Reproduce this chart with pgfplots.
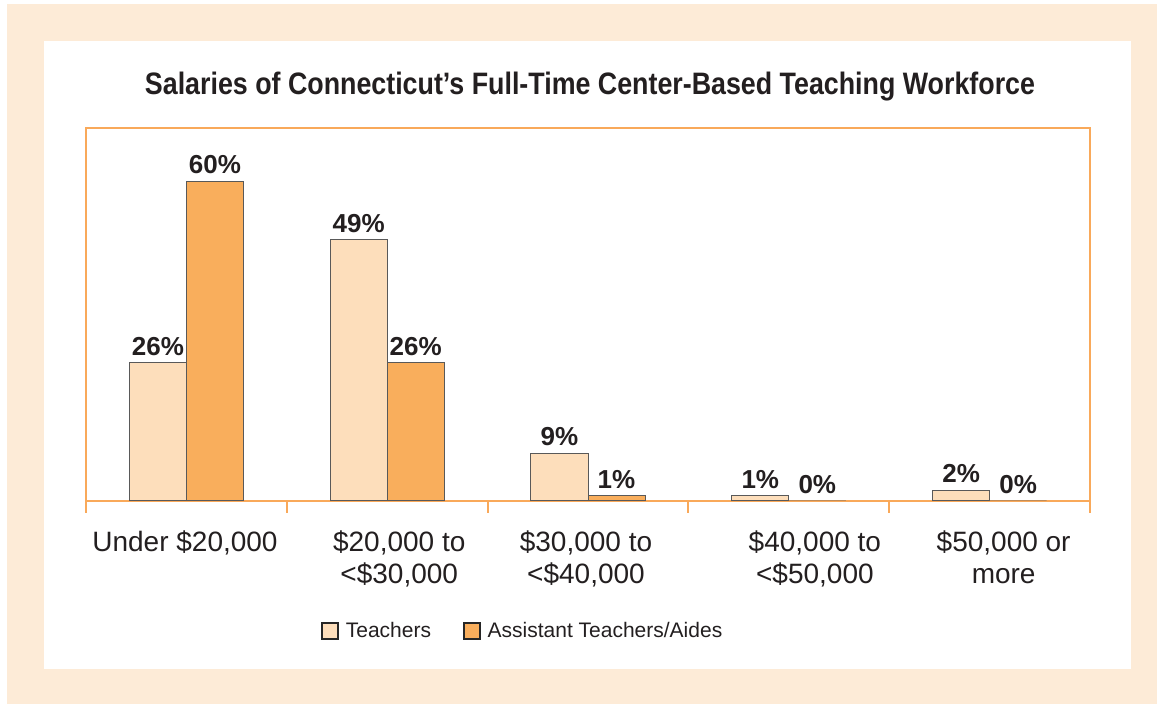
\documentclass[border=0pt]{standalone}
\usepackage{fontspec}
\setmainfont{Liberation Sans}
\usepackage{pgfplots}
\pgfplotsset{compat=1.18}
\definecolor{peachbg}{HTML}{FDEBD7}
\definecolor{teach}{HTML}{FDDEBB}
\definecolor{aide}{HTML}{F9AE5C}
\definecolor{frame}{HTML}{F9A95A}
\definecolor{ink}{HTML}{231F20}

\begin{document}
\begin{tikzpicture}
\useasboundingbox (0,0) rectangle (578.5pt,352pt);
\fill[peachbg] (3.5pt,0) rectangle (578.5pt,350pt);
\fill[white] (22pt,17.5pt) rectangle (565.5pt,331.5pt);
\node[ink, font=\fontsize{15.5}{18}\selectfont\bfseries, anchor=base, inner sep=0pt]
  at (295pt,304.5pt) {\scalebox{0.865}[1]{Salaries of Connecticut’s Full-Time Center-Based Teaching Workforce}};
\begin{axis}[
  at={(43pt,101.5pt)}, anchor=south west,
  scale only axis, width=502pt, height=186.5pt,
  xmin=-0.5, xmax=4.5, ymin=0, ymax=70,
  ybar=0pt, bar width=0.284,
  axis line style={frame, line width=1pt},
  ytick=\empty,
  xtick={-0.007,1.06,1.99,3.13,4.07},
  xticklabels={{Under \$20,000}, {\$20,000 to\\<\$30,000}, {\$30,000 to\\<\$40,000},
    {\$40,000 to\\<\$50,000}, {\$50,000 or\\more}},
  major tick length=0pt,
  minor xtick={-0.5,0.5,...,4.5},
  minor tick length=6pt,
  tick align=outside,
  xtick pos=bottom,
  minor tick style={frame, line width=1pt},
  xticklabel style={font=\fontsize{14}{16}\selectfont, align=center, text=ink, yshift=-11.5pt},
  /pgf/number format/assume math mode=true,
  nodes near coords={\pgfmathprintnumber{\pgfplotspointmeta}\%},
  nodes near coords style={font=\fontsize{13}{15}\selectfont\bfseries, text=ink},
  every axis plot/.append style={draw=black!65, line width=0.5pt},
  legend columns=2,
  legend style={draw=none, fill=none, at={(0.436,-0.349)}, anchor=center,
    font=\fontsize{10.5}{12}\selectfont, text=ink,
    /tikz/every odd column/.append style={column sep=1.5pt},
    /tikz/every even column/.append style={column sep=14pt}},
  legend image code/.code={\draw[#1, draw=black!85, line width=0.8pt] (0pt,-4pt) rectangle (8pt,4pt);},
]
\addplot[fill=teach] coordinates {(0,26) (1,49) (2,9) (3,1) (4,2)};
\addlegendentry{Teachers}
\addplot[fill=aide] coordinates {(0,60) (1,26) (2,1) (3,0) (4,0)};
\addlegendentry{Assistant Teachers/Aides}
\end{axis}
\end{tikzpicture}
\end{document}
